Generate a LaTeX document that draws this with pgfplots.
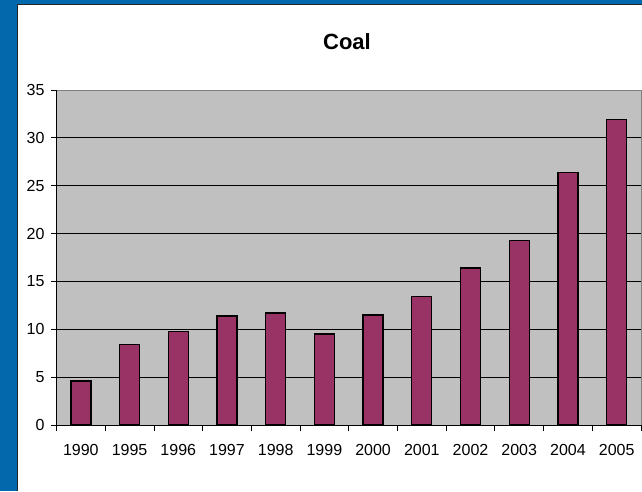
\documentclass[border=0pt]{standalone}
\usepackage{pgfplots}
\pgfplotsset{compat=1.18}
\usepackage{fontspec}
\setmainfont{Liberation Sans}

\definecolor{frameblue}{RGB}{4,104,172}
\definecolor{plotgray}{RGB}{192,192,192}
\definecolor{coalbar}{RGB}{153,51,102}

\pgfplotstableread{
idx year value
0  1990 4.6
1  1995 8.4
2  1996 9.8
3  1997 11.4
4  1998 11.7
5  1999 9.5
6  2000 11.5
7  2001 13.4
8  2002 16.4
9  2003 19.3
10 2004 26.4
11 2005 31.9
}\coaldata

\begin{document}
\begin{tikzpicture}[x=1pt,y=1pt]
  % page frame: blue surround, white chart panel
  \fill[frameblue] (0,0) rectangle (642,491);
  \useasboundingbox (0,0) rectangle (642,491);
  \fill[white] (18,0) rectangle (642,486.5);
  \draw[black!85,line width=0.9pt] (17.5,0) -- (17.5,486.5) -- (642,486.5);

  \node[font=\fontsize{22}{26}\selectfont\bfseries] at (347,449) {Coal};

  \begin{axis}[
    scale only axis,
    width=584.5pt, height=335pt,
    at={(56.5pt,66pt)}, anchor=south west,
    ybar, bar width=20pt,
    xmin=-0.5, xmax=11.5,
    ymin=0, ymax=35,
    ytick={0,5,...,35},
    xtick={0,...,11},
    xticklabels={1990,1995,1996,1997,1998,1999,2000,2001,2002,2003,2004,2005},
    minor xtick={-0.5,0.5,...,11.5},
    major x tick style={draw=none},
    minor x tick style={black, line width=0.8pt},
    y tick style={black, line width=0.8pt},
    tick align=outside,
    major tick length=5.5pt,
    minor tick length=5.5pt,
    xtick pos=bottom, ytick pos=left,
    ymajorgrids,
    grid style={black, line width=0.9pt},
    axis line style={draw=none},
    axis background/.style={fill=plotgray},
    tick label style={font=\fontsize{16}{19}\selectfont},
    /pgf/number format/assume math mode=true,
    yticklabel style={xshift=-3pt},
    xticklabel style={yshift=-10pt},
    clip=false,
  ]
    \addplot[fill=coalbar, draw=black, line width=1.3pt] table[x=idx, y=value] {\coaldata};
    % plot-area border: grey at top and right, black axis lines at left and bottom
    \draw[gray, line width=0.9pt] (rel axis cs:0,1) -- (rel axis cs:1,1) -- (rel axis cs:1,0);
    \draw[black, line width=0.9pt] (rel axis cs:0,1) -- (rel axis cs:0,0) -- (rel axis cs:1,0);
  \end{axis}
\end{tikzpicture}
\end{document}
